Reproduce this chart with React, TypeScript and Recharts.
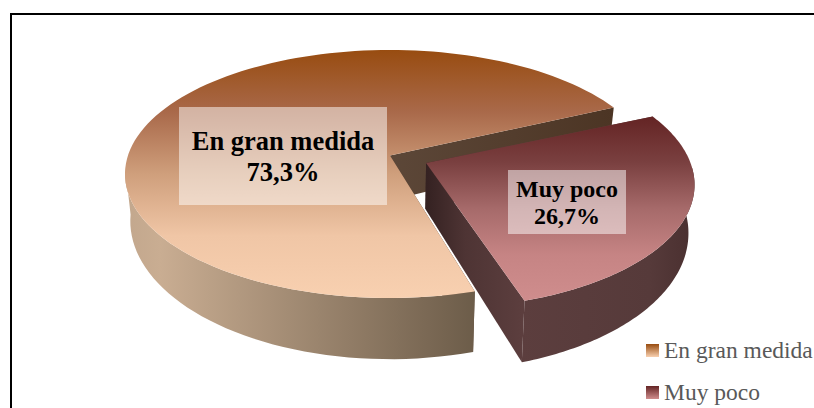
import React from 'react';
import { PieChart, Pie, Legend } from 'recharts';

const categories = ['En gran medida', 'Muy poco'];
const shares = [73.3, 26.7];
const rows = categories.map((name, i) => ({ name, value: shares[i] }));

const FONT = '"Liberation Serif", "Times New Roman", serif';
const W = 814;
const H = 408;
const CX = 390;
const CY = 174;
const RY = 124;
const RX = 265;
const K = 0.15;
const EXPLODE = [0, 0.15];
const TRIM = [1.3, 0];
const TOP_GRAD = [
  ['#984c10', '#a9694a', '#cf9f7c', '#f0c6a6', '#f8d0b0'],
  ['#642424', '#7a4040', '#a66a6a', '#c68484', '#cf8d8d'],
];
const SWATCH = [
  ['#984c10', '#f8d0b0'],
  ['#642424', '#cf8d8d'],
];
const LABEL_BOX = [
  { x: 179, y: 107, w: 208, h: 98, size: 26.5, b1: 150, b2: 181 },
  { x: 508, y: 170, w: 118, h: 64, size: 24, b1: 197, b2: 224 },
];

const rad = (d: number) => (d * Math.PI) / 180;

function project(X: number, Y: number) {
  const s = Math.sqrt(1 - K * K);
  const den = 1 + K * Y;
  return { x: CX + RX * (X * s) / den, y: CY - RY * (Y + K) / den };
}
function under(p: { x: number; y: number }) {
  return {
    x: CX + (p.x - CX) * 0.98,
    y: p.y + 45 + (p.y - 155) * 0.113,
  };
}
const toPath = (pts: { x: number; y: number }[]) =>
  pts.map((p, i) => `${i ? 'L' : 'M'}${p.x.toFixed(2)} ${p.y.toFixed(2)}`).join(' ') + ' Z';

function Slice3D(props: any) {
  const { index = 0 } = props;
  const idx = props.name === categories[1] ? 1 : index;
  const startAngle = props.startAngle + TRIM[idx];
  const endAngle = props.endAngle - TRIM[idx];
  const mid = (startAngle + endAngle) / 2;
  const e = EXPLODE[idx];
  const ox = e * Math.cos(rad(mid));
  const oy = e * Math.sin(rad(mid));
  const apex = project(ox, oy);
  const n = 120;
  const rim: { x: number; y: number }[] = [];
  for (let i = 0; i <= n; i++) {
    const a = rad(startAngle + ((endAngle - startAngle) * i) / n);
    rim.push(project(ox + Math.cos(a), oy + Math.sin(a)));
  }
  const rimB = rim.map(under);
  const apexB = under(apex);
  const top = toPath([apex, ...rim]);
  const front = rim.filter((p) => p.y >= CY - 8);
  const band = toPath([...front, ...front.map(under).reverse()]);
  const face1 = toPath([apex, rim[0], rimB[0], apexB]);
  const face2 = toPath([apex, rim[n], rimB[n], apexB]);
  const g = `t${idx}`;
  const minY = Math.min(...rim.map((p) => p.y));
  const maxY = Math.max(...rim.map((p) => p.y));
  return (
    <g>
      <defs>
        <linearGradient id={g} gradientUnits="userSpaceOnUse" x1="0" x2="0" y1={minY} y2={maxY}>
          {TOP_GRAD[idx].map((c, i) => (
            <stop key={i} offset={i / (TOP_GRAD[idx].length - 1)} stopColor={c} />
          ))}
        </linearGradient>
        <linearGradient id="sideA" gradientUnits="userSpaceOnUse" x1="125" x2="476" y1="0" y2="0">
          <stop offset="0" stopColor="#c2a78d" />
          <stop offset="0.1" stopColor="#c9ad92" />
          <stop offset="1" stopColor="#6c5c49" />
        </linearGradient>
        <linearGradient id="faceA" gradientUnits="userSpaceOnUse" x1="390" x2="613" y1="0" y2="0">
          <stop offset="0" stopColor="#5c4738" />
          <stop offset="1" stopColor="#4c3524" />
        </linearGradient>
        <linearGradient id="sideB" gradientUnits="userSpaceOnUse" x1="520" x2="693" y1="0" y2="0">
          <stop offset="0" stopColor="#5c3e3e" />
          <stop offset="0.75" stopColor="#563a3a" />
          <stop offset="1" stopColor="#4a3030" />
        </linearGradient>
        <linearGradient id="faceB" gradientUnits="userSpaceOnUse" x1="427" x2="522" y1="0" y2="0">
          <stop offset="0" stopColor="#352222" />
          <stop offset="0.4" stopColor="#4e3434" />
          <stop offset="1" stopColor="#5c3e3e" />
        </linearGradient>
      </defs>
      <path d={face1} fill={idx ? 'url(#faceB)' : 'url(#faceA)'} />
      <path d={face2} fill={idx ? 'url(#faceB)' : 'url(#faceA)'} />
      <path d={band} fill={idx ? 'url(#sideB)' : 'url(#sideA)'} />
      <path d={top} fill={`url(#${g})`} />
    </g>
  );
}

function SliceLabel(props: any) {
  const { name, value } = props;
  const idx = categories.indexOf(name);
  const b = LABEL_BOX[idx];
  const mid = b.x + b.w / 2;
  const style = { fontFamily: FONT, fontWeight: 700, fontSize: b.size, fill: '#000' };
  return (
    <g>
      <rect x={b.x} y={b.y} width={b.w} height={b.h} fill="#fff" fillOpacity={0.5} />
      <text x={mid} y={b.b1} textAnchor="middle" style={style}>{name}</text>
      <text x={mid} y={b.b2} textAnchor="middle" style={style}>
        {Number(value).toFixed(1).replace('.', ',') + '%'}
      </text>
    </g>
  );
}

function LegendBox(props: any) {
  const items = props.payload || [];
  return (
    <div style={{ fontFamily: FONT, fontSize: 23.5, color: '#595959', lineHeight: '23px' }}>
      {items.map((it: any, i: number) => (
        <div key={i} style={{ display: 'flex', alignItems: 'center', height: 23, marginBottom: 19, whiteSpace: 'nowrap' }}>
          <span
            style={{
              width: 13,
              height: 13,
              marginRight: 5,
              background: `linear-gradient(${SWATCH[i][0]}, ${SWATCH[i][1]})`,
              display: 'inline-block',
            }}
          />
          {it.value}
        </div>
      ))}
    </div>
  );
}

export default function App() {
  return (
    <div style={{ position: 'absolute', left: 0, top: 0, width: W, height: H, overflow: 'hidden', background: '#fff' }}>
      <div style={{ position: 'absolute', left: 10, top: 13, width: W, height: H, borderTop: '2px solid #000', borderLeft: '2px solid #000' }} />
      <PieChart width={W} height={H} margin={{ top: 0, right: 0, bottom: 0, left: 0 }} style={{ position: 'absolute', left: 0, top: 0 }}>
        <Pie
          data={rows}
          dataKey="value"
          nameKey="name"
          cx={CX}
          cy={CY}
          outerRadius={RY}
          startAngle={23.5}
          endAngle={383.5}
          stroke="none"
          isAnimationActive={false}
          shape={Slice3D}
          label={SliceLabel}
          labelLine={false}
        />
        <Legend
          content={LegendBox}
          wrapperStyle={{ position: 'absolute', left: 646, top: 339, width: 168, bottom: 'auto', right: 'auto' }}
        />
      </PieChart>
    </div>
  );
}
